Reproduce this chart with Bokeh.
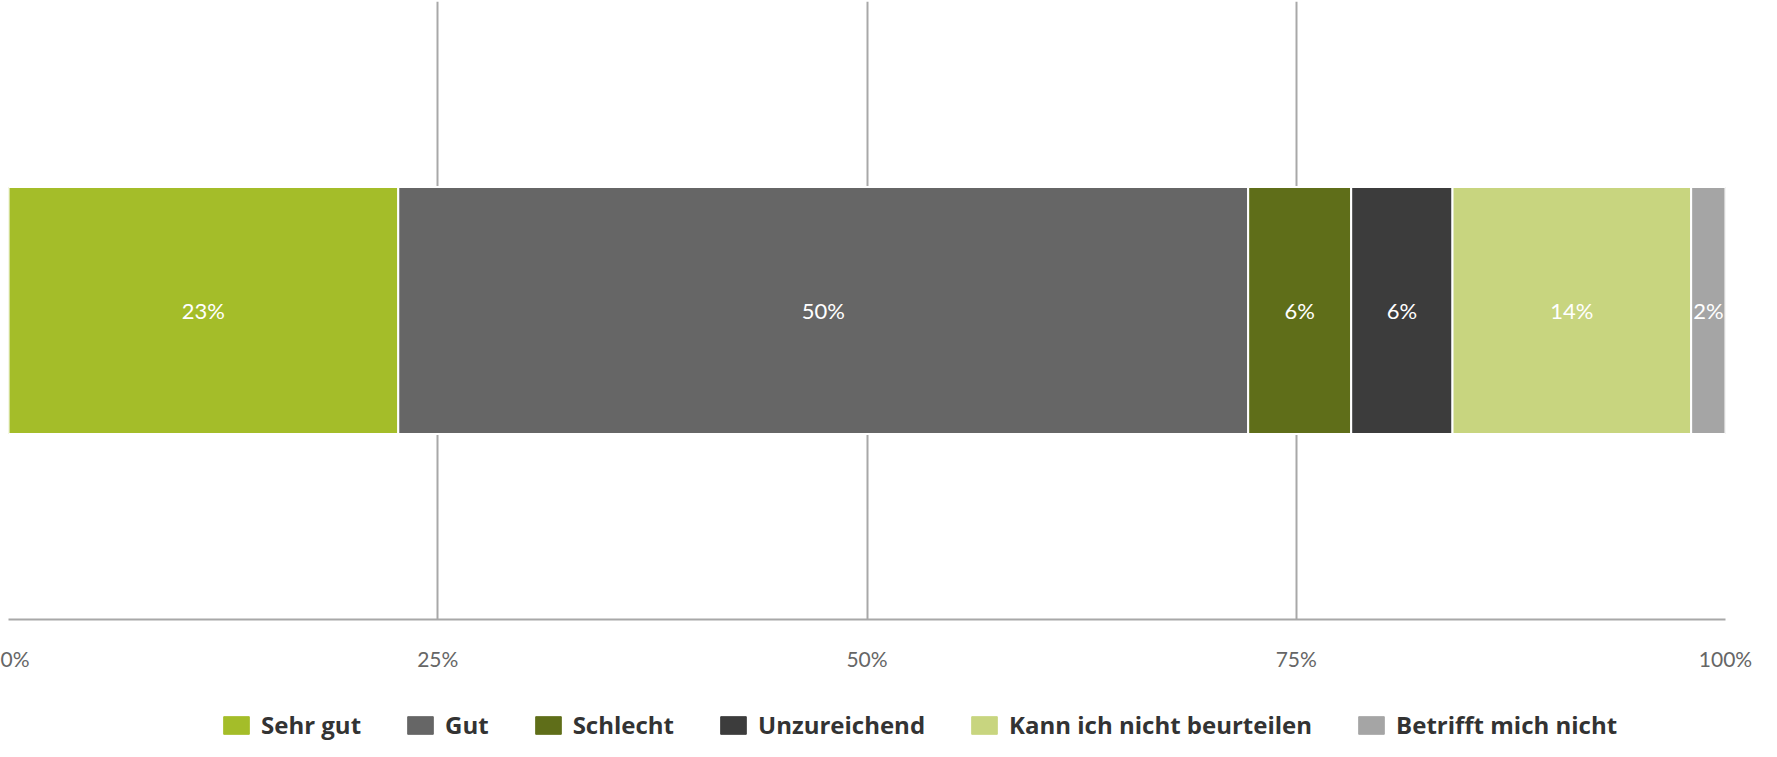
import numpy as np
from bokeh.plotting import figure
from bokeh.layouts import column
from bokeh.models import Legend, LegendItem, FixedTicker, CustomJSTickFormatter, Range1d
from bokeh.core.properties import value
from bokeh.embed import file_html
from bokeh.resources import INLINE

categories = ["Sehr gut", "Gut", "Schlecht", "Unzureichend", "Kann ich nicht beurteilen", "Betrifft mich nicht"]
shares = [22.7, 49.5, 6.0, 5.9, 13.9, 2.0]
colors = ["#a4bd29", "#666666", "#5f6e19", "#3c3c3c", "#c8d57f", "#a5a5a5"]
tick_values = [0, 25, 50, 75, 100]

FONT = "Lato"
W = 1761

p = figure(width=W, height=674, output_backend="svg", toolbar_location=None,
           x_range=Range1d(0, 100), y_range=Range1d(0, 1),
           min_border_left=8, min_border_right=36, min_border_top=1, min_border_bottom=55)
p.outline_line_color = None
p.background_fill_color = "white"
p.border_fill_color = "white"

rights = np.cumsum(shares)
lefts = rights - np.array(shares)

for l, r, c in zip(lefts, rights, colors):
    p.hbar(y=[0.5], left=[l], right=[r], height=0.4, fill_color=c,
           line_color="white", line_width=2)

p.text(x=(lefts + rights) / 2, y=[0.5] * len(shares),
       text=[f"{round(s)}%" for s in shares],
       text_color="white", text_font=value(FONT), text_font_size="22px",
       text_align="center", text_baseline="middle")

p.yaxis.visible = False
p.ygrid.visible = False
p.xgrid.ticker = FixedTicker(ticks=tick_values)
p.xgrid.grid_line_color = "#a8a8a8"
p.xgrid.grid_line_width = 2
xa = p.xaxis[0]
xa.ticker = FixedTicker(ticks=tick_values)
xa.formatter = CustomJSTickFormatter(code="return tick + '%';")
xa.axis_line_color = "#a8a8a8"
xa.axis_line_width = 2
xa.major_tick_line_color = None
xa.minor_tick_line_color = None
xa.major_label_standoff = 20
xa.major_label_text_font = FONT
xa.major_label_text_font_size = "21px"
xa.major_label_text_color = "#666666"

# legend strip underneath the chart (its swatch renderers lie outside its view)
lg = figure(width=W, height=67, output_backend="svg", toolbar_location=None,
            x_range=Range1d(0, 100), y_range=Range1d(2, 3),
            min_border_left=0, min_border_right=0, min_border_top=0, min_border_bottom=0)
lg.axis.visible = False
lg.grid.visible = False
lg.outline_line_color = None
lg.background_fill_color = "white"
lg.border_fill_color = "white"

items = []
for name, l, r, c in zip(categories, lefts, rights, colors):
    rend = lg.hbar(y=[0.5], left=[l], right=[r], height=0.4, fill_color=c, line_color=c)
    items.append(LegendItem(label=name, renderers=[rend]))

legend = Legend(items=items, orientation="horizontal", location=(212, 0),
                glyph_width=32, glyph_height=22, label_standoff=9, spacing=43,
                label_text_font="Open Sans", label_text_font_style="bold",
                label_text_font_size="24px", label_text_color="#333333",
                label_height=22,
                border_line_color=None, background_fill_alpha=0,
                padding=0, margin=0)
lg.add_layout(legend, "center")

page = column(p, lg, spacing=0)
open("out.html", "w").write(file_html(page, INLINE))
